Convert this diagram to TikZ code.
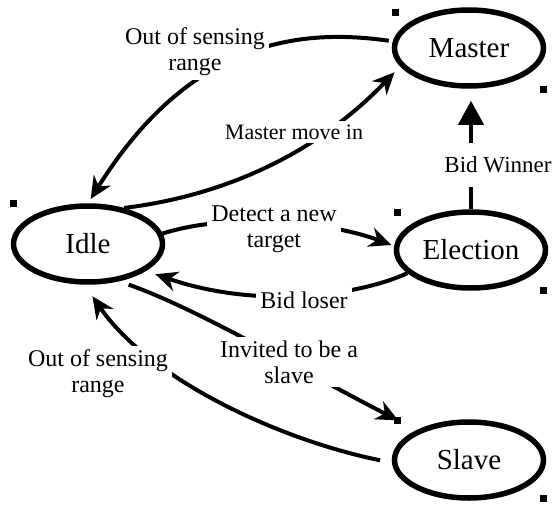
\documentclass[tikz,border=0pt]{standalone}
\usepackage{fontspec}
\setmainfont{Liberation Serif}
\usepackage{tikz}
\usetikzlibrary{arrows.meta,shapes.geometric}

\begin{document}
\begin{tikzpicture}[x=1pt,y=-1pt,
		state/.style={ellipse,draw,line width=5.5pt,minimum width=149pt,minimum height=76pt,inner sep=0pt,font=\fontsize{29}{34}\selectfont},
		edge/.style={line width=4pt,-{Stealth[length=22pt,width=20pt,inset=7pt]}},
		lbl/.style={fill=white,align=center,inner sep=4pt,font=\fontsize{24}{26}\selectfont}]
		\useasboundingbox (0,0) rectangle (555,506);
		\node[state] (master) at (469,48) {Master};
		\node[state] (election) at (471,250) {Election};
		\node[state] (idle) at (88,244) {Idle};
		\node[state] (slave) at (469,460) {Slave};
		\foreach \x/\y in {13/203,395/12,543/89,397/212,543/290,397/420,543/498}
			\fill (\x-3.5,\y-3.5) rectangle +(7,7);
		\draw[edge,shorten <=4pt,shorten >=5pt] (master.175) .. controls (300,28) and (190,40) .. (idle.north);
		\draw[edge,shorten >=8pt] (idle.45) .. controls (230,195) and (320,150) .. (master.195);
		\draw[edge,shorten >=3pt] (idle.8) .. controls (230,212) and (330,222) .. (election.177);
		\draw[line width=4pt,-{Triangle[length=24pt,width=25pt]},shorten >=12pt] (election.north) -- (election.north |- master.south);
		\draw[edge,shorten >=10pt] (election.200) .. controls (360,295) and (260,310) .. (idle.335);
		\draw[edge,shorten <=12pt,shorten >=14pt] (slave.182) .. controls (280,440) and (150,380) .. (idle.265);
		\draw[edge,shorten <=10pt,shorten >=21pt] (idle.310) .. controls (200,310) and (300,370) .. (slave.150);
		% labels on top of the lines
		\node[lbl] (outTop) at (195,52) {Out of sensing\\range};
		\node[lbl,font=\fontsize{22}{25}\selectfont] (moveIn) at (294,132) {Master move in};
		\node[lbl] (detect) at (274,229) {Detect a new\\target};
		\node[lbl,inner ysep=14pt,font=\fontsize{23}{26}\selectfont] (winner) at (498,165) {Bid Winner};
		\node[lbl] (loser) at (304,300) {Bid loser};
		\node[lbl] (invite) at (289,362) {Invited to be a\\slave};
		\node[lbl] (outBot) at (98,374) {Out of sensing\\range};
	\end{tikzpicture}
\end{document}
